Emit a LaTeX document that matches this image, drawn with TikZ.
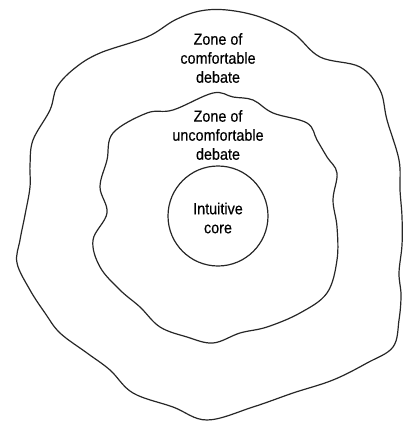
\documentclass[tikz,border=0pt]{standalone}
\usepackage{fontspec}
\setmainfont{Liberation Sans}[FakeStretch=0.9,FakeBold=0.4]
\begin{document}
\begin{tikzpicture}[x=1pt,y=-1pt,
  blob/.style={draw=black!85,line width=1.2pt,smooth cycle,tension=0.6},
  lbl/.style={font=\fontsize{16}{19}\selectfont,align=center,inner sep=0pt}]
\useasboundingbox (0,0) rectangle (404,423);
% outer zone
\draw[blob] plot coordinates {(200,11) (175,20) (147,37) (100,53) (75,68) (57,87) (50,110) (33,140) (30,165) (30,187) (25,215) (20,240) (17,263) (30,290) (45,313) (60,333) (87,353) (110,370) (133,393) (173,407) (207,420) (253,407) (293,393) (333,380) (367,363) (393,347) (399,320) (401,295) (399,273) (402,245) (402,217) (400,190) (399,160) (387,120) (380,90) (360,67) (320,57) (293,33) (260,17) (227,10)};
% inner zone
\draw[blob] plot coordinates {(213,93) (173,110) (147,113) (113,133) (107,160) (100,187) (107,213) (93,240) (100,267) (120,290) (140,307) (160,327) (187,337) (213,343) (240,333) (267,327) (300,313) (327,293) (337,260) (337,227) (333,200) (337,173) (327,157) (317,140) (307,123) (273,113) (253,100) (233,97)};
% core
\node[draw=black!85,line width=1.2pt,circle,minimum size=100pt,inner sep=0pt] (core) at (218,216) {};
\node[lbl] (corelbl) at (218,218) {Intuitive\\core};
\node[lbl] (inlbl) at (218,135) {Zone of\\uncomfortable\\debate};
\node[lbl] (outlbl) at (218,58) {Zone of\\comfortable\\debate};
\end{tikzpicture}
\end{document}
